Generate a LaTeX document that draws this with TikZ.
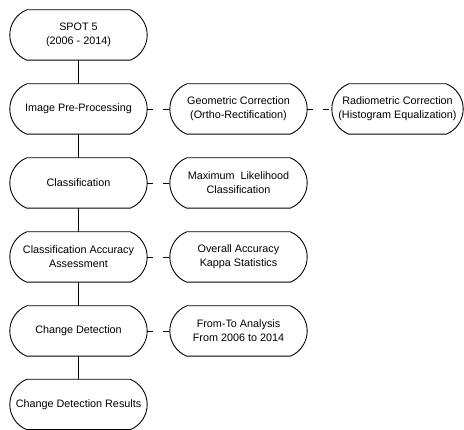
\documentclass[tikz,border=0pt]{standalone}
\usepackage{fontspec}
\setmainfont{Liberation Sans}
\usetikzlibrary{calc}
\tikzset{>=stealth,
  stage/.style={rectangle, minimum width=137pt, minimum height=50pt, inner sep=0pt,
    align=center, font=\fontsize{10.8}{14}\selectfont},
  outline/.style={line width=0.9pt},
  link/.style={line width=0.9pt},
  side/.style={line width=0.9pt, dash pattern=on 6pt off 10pt}}

\begin{document}
\begin{tikzpicture}[x=1pt, y=-1pt]
    \useasboundingbox (0,0) rectangle (464,430);
    \node[stage] (spot) at (78.5,35) {SPOT 5\\(2006 - 2014)};
    \node[stage] (pre) at (78.5,109) {Image Pre-Processing};
    \node[stage] (cls) at (78.5,183) {Classification};
    \node[stage] (acc) at (78.5,257) {Classification Accuracy\\Assessment};
    \node[stage] (chg) at (78.5,331) {Change Detection};
    \node[stage] (res) at (78.5,404.5) {Change Detection Results};
    \node[stage] (geo) at (238.5,109) {Geometric Correction\\(Ortho-Rectification)};
    \node[stage, minimum width=131pt] (rad) at (397.5,109) {Radiometric Correction\\(Histogram Equalization)};
    \node[stage] (mlc) at (238.5,183) {Maximum\ \ Likelihood\\Classification};
    \node[stage] (oa) at (238.5,257) {Overall Accuracy\\Kappa Statistics};
    \node[stage] (ft) at (238.5,331) {From-To Analysis\\From 2006 to 2014};
    \foreach \n in {spot,pre,cls,acc,chg,res,geo,rad,mlc,oa,ft}
        \draw[outline] ($(\n.north west)+(17,0)$) -- ($(\n.north east)+(-17,0)$)
            .. controls +(10.2,4) and +(0,-11) .. (\n.east)
            .. controls +(0,11) and +(10.2,-4) .. ($(\n.south east)+(-17,0)$)
            -- ($(\n.south west)+(17,0)$)
            .. controls +(-10.2,-4) and +(0,11) .. (\n.west)
            .. controls +(0,-11) and +(-10.2,4) .. ($(\n.north west)+(17,0)$) -- cycle;
    \foreach \a/\b in {spot/pre, pre/cls, cls/acc, acc/chg, chg/res}
        \draw[link] (\a) -- (\b);
    \foreach \a/\b in {pre/geo, geo/rad, cls/mlc, acc/oa, chg/ft}
        \draw[side] (\a) -- (\b);
\end{tikzpicture}
\end{document}
